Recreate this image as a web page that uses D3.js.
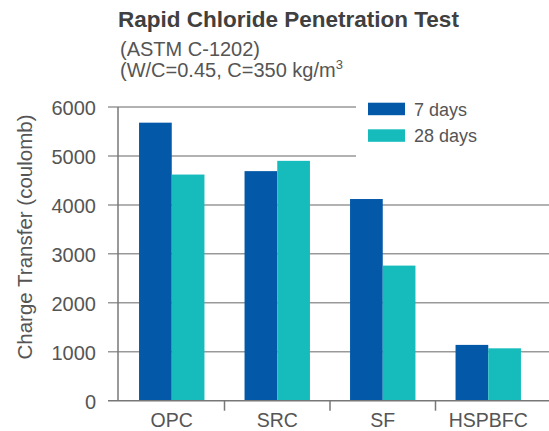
<!DOCTYPE html>
<html>
<head>
<meta charset="utf-8">
<script src="https://cdn.jsdelivr.net/npm/d3@7"></script>
<style>
  body { margin: 0; background: #fff; }
  svg { display: block; font-family: "Liberation Sans", Arial, sans-serif; }
</style>
</head>
<body>
<script>
// data
const categories = ['OPC', 'SRC', 'SF', 'HSPBFC'];
const seriesNames = ['7 days', '28 days'];
const days7 = [5680, 4690, 4120, 1140];
const days28 = [4620, 4900, 2760, 1070];
const yTicks = [0, 1000, 2000, 3000, 4000, 5000, 6000];
const seriesColors = ['#0458a8', '#16bcbc'];

const w = 549;
const h = 431;

const svg = d3.select('body')
  .append('svg')
  .attr('width', w)
  .attr('height', h)

const rows = categories.map(function(c, i){
  return {cat: c, values: [days7[i], days28[i]]}
})

const x0 = d3.scaleBand()
  .domain(categories)
  .range([119, 541])
  .padding(0)

const x1 = d3.scaleBand()
  .domain(seriesNames)
  .range([0, x0.bandwidth()])
  .paddingInner(0)
  .paddingOuter(0.613)

const yScale = d3.scaleLinear()
  .domain([0, 6000])
  .range([400.7, 107])

const colors = d3.scaleOrdinal()
  .domain(seriesNames)
  .range(seriesColors)

// title
svg.append('text')
  .attr('x', 118)
  .attr('y', 27)
  .attr('font-size', 22.5)
  .attr('font-weight', 'bold')
  .attr('fill', '#404040')
  .text('Rapid Chloride Penetration Test')

svg.append('text')
  .attr('x', 120)
  .attr('y', 56)
  .attr('font-size', 20)
  .attr('fill', '#555')
  .text('(ASTM C-1202)')

const sub2 = svg.append('text')
  .attr('x', 120)
  .attr('y', 77)
  .attr('font-size', 20)
  .attr('fill', '#555')
sub2.append('tspan').text('(W/C=0.45, C=350 kg/m')
sub2.append('tspan').attr('font-size', 13).attr('dy', -8).text('3')

// gridlines
svg.append('g')
  .selectAll('line')
  .data(yTicks.filter(function(d){ return d > 0 }))
  .enter().append('line')
  .attr('x1', 108)
  .attr('x2', w)
  .attr('y1', function(d){ return yScale(d) })
  .attr('y2', function(d){ return yScale(d) })
  .attr('stroke', '#999')
  .attr('stroke-width', 1.5)

// legend background cuts the top gridlines
svg.append('rect')
  .attr('x', 356)
  .attr('y', 92)
  .attr('width', w - 356)
  .attr('height', 78)
  .attr('fill', '#fff')

// bars
svg.append('g')
  .selectAll('g')
  .data(rows)
  .enter().append('g')
  .attr('transform', function(d){ return 'translate(' + x0(d.cat) + ',0)' })
  .selectAll('rect')
  .data(function(d){ return d.values.map(function(v, i){ return {key: seriesNames[i], value: v} }) })
  .enter().append('rect')
  .attr('x', function(d){ return x1(d.key) })
  .attr('width', x1.bandwidth())
  .attr('y', function(d){ return yScale(d.value) })
  .attr('height', function(d){ return yScale(0) - yScale(d.value) })
  .attr('fill', function(d){ return colors(d.key) })

// axes lines
svg.append('line')
  .attr('x1', 118).attr('x2', 118)
  .attr('y1', yScale(6000)).attr('y2', yScale(0))
  .attr('stroke', '#777').attr('stroke-width', 1.5)

svg.append('line')
  .attr('x1', 108).attr('x2', w)
  .attr('y1', yScale(0)).attr('y2', yScale(0))
  .attr('stroke', '#777').attr('stroke-width', 1.5)

// x ticks between categories
svg.append('g')
  .selectAll('line')
  .data(categories.slice(1))
  .enter().append('line')
  .attr('x1', function(d){ return x0(d) })
  .attr('x2', function(d){ return x0(d) })
  .attr('y1', yScale(0))
  .attr('y2', yScale(0) + 10)
  .attr('stroke', '#777').attr('stroke-width', 1.5)

// y tick labels
svg.append('g')
  .selectAll('text')
  .data(yTicks)
  .enter().append('text')
  .attr('x', 96)
  .attr('y', function(d){ return yScale(d) + 8 })
  .attr('text-anchor', 'end')
  .attr('font-size', 20)
  .attr('fill', '#555')
  .text(function(d){ return d })

// category labels
svg.append('g')
  .selectAll('text')
  .data(categories)
  .enter().append('text')
  .attr('x', function(d){ return x0(d) + x0.bandwidth() / 2 })
  .attr('y', 426.5)
  .attr('text-anchor', 'middle')
  .attr('font-size', 19.5)
  .attr('fill', '#555')
  .text(function(d){ return d })

// y-axis label
svg.append('text')
  .attr('transform', 'translate(32,237) rotate(-90)')
  .attr('text-anchor', 'middle')
  .attr('font-size', 20.5)
  .attr('fill', '#555')
  .text('Charge Transfer (coulomb)')

// legend
const legend = svg.selectAll('.legend')
  .data(seriesNames)
  .enter().append('g')
  .attr('class', 'legend')
  .attr('transform', function(d, i){ return 'translate(368,' + (102.7 + i * 26.6) + ')' })

legend.append('rect')
  .attr('width', 37)
  .attr('height', 12.5)
  .attr('fill', function(d){ return colors(d) })

legend.append('text')
  .attr('x', 46)
  .attr('y', 12.8)
  .attr('font-size', 18)
  .attr('fill', '#555')
  .text(function(d){ return d })
</script>
</body>
</html>
